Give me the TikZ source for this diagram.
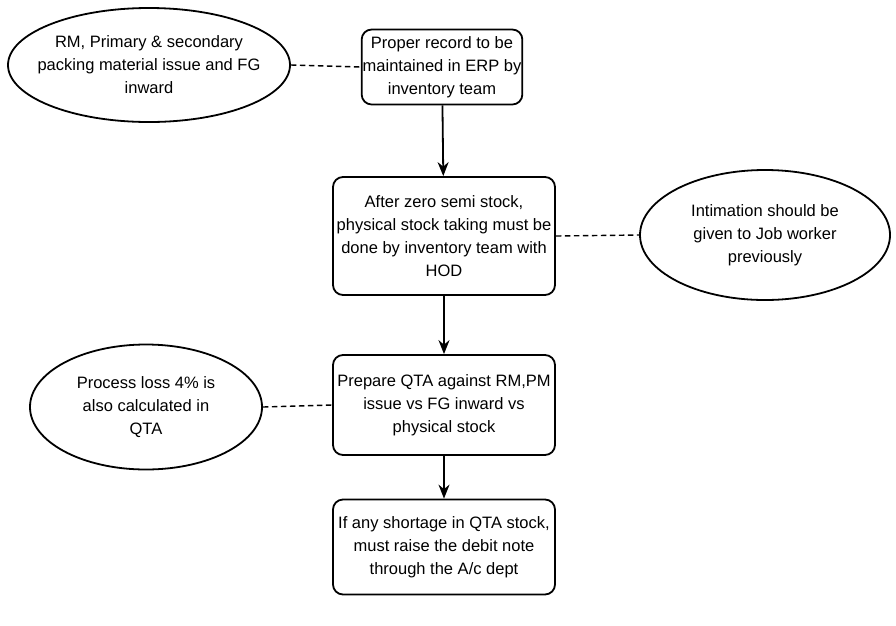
\documentclass[tikz,border=0pt]{standalone}
\usepackage{fontspec}
\setmainfont{Liberation Sans}
\usetikzlibrary{shapes.geometric,arrows.meta}
\begin{document}
\begin{tikzpicture}[x=1pt,y=-1pt,
  stepbox/.style={draw,line width=1.8pt,rounded corners=10pt,align=center,inner sep=1pt,
    font=\fontsize{16.5}{23}\selectfont},
  note/.style={draw,ellipse,line width=1.8pt,align=center,inner xsep=-40pt,inner ysep=0pt,
    font=\fontsize{16.5}{23}\selectfont},
  link/.style={line width=1.4pt,dash pattern=on 5.5pt off 3.5pt},
  flow/.style={line width=1.8pt,-{Stealth[length=14pt,width=11pt]}}]
\useasboundingbox (0,0) rectangle (896,625);
%main steps
\node[stepbox,minimum width=155pt,minimum height=75pt] (record) at (442,67)
  {Proper record to be\\maintained in ERP by\\inventory team};
\node[stepbox,minimum width=222pt,minimum height=118pt] (count) at (444,236)
  {After zero semi stock,\\physical stock taking must be\\done by inventory team with\\HOD};
\node[stepbox,minimum width=222pt,minimum height=100pt] (qta) at (444,405)
  {Prepare QTA against RM,PM\\issue vs FG inward vs\\physical stock};
\node[stepbox,minimum width=222pt,minimum height=95pt] (debit) at (444,547)
  {If any shortage in QTA stock,\\must raise the debit note\\through the A/c dept};
%side notes
\node[note,minimum width=282pt,minimum height=114pt] (issue) at (149,65)
  {RM, Primary \& secondary\\packing material issue and FG\\inward};
\node[note,minimum width=250pt,minimum height=130pt] (intim) at (765,235)
  {Intimation should be\\given to Job worker\\previously};
\node[note,minimum width=232pt,minimum height=125pt] (loss) at (146,407)
  {Process loss 4\% is\\also calculated in\\QTA};
%connectors
\draw[flow] (record) -- (count);
\draw[flow] (count) -- (qta);
\draw[flow] (qta) -- (debit);
\draw[link] (issue.east) -- (record.west);
\draw[link] (count.east) -- (intim.west);
\draw[link] (loss.east) -- (qta.west);
\end{tikzpicture}
\end{document}
